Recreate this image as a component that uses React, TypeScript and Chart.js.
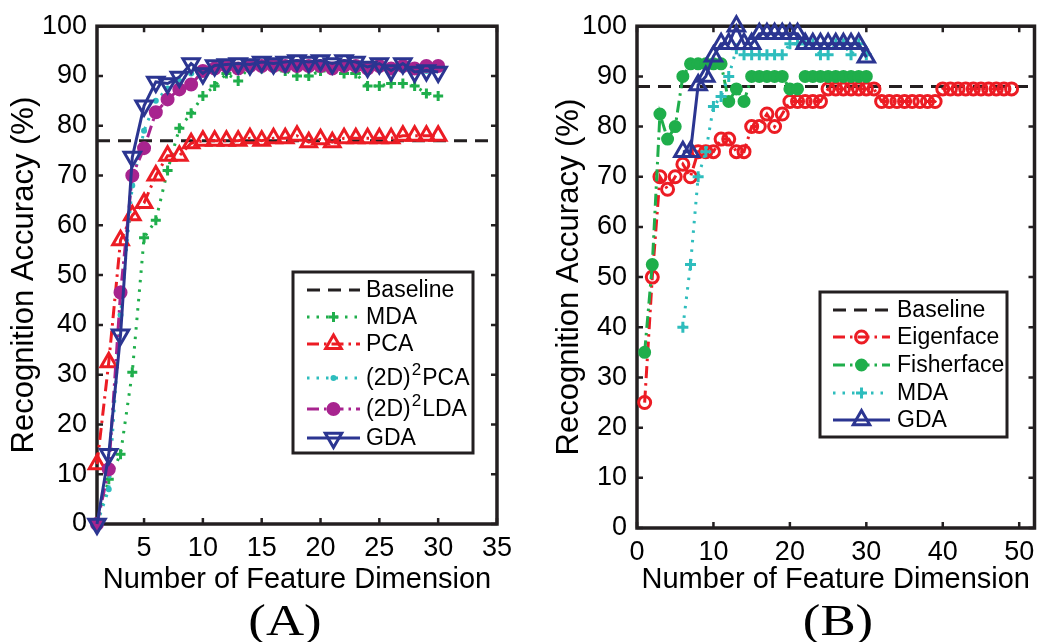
import React, { useEffect, useRef } from "react";
import { Chart, registerables } from "chart.js";

Chart.register(...registerables);

const SANS = '"Liberation Sans", Arial, Helvetica, sans-serif';

// ---------- Panel (A) ----------
const leftDims = [1, 2, 3, 4, 5, 6, 7, 8, 9, 10, 11, 12, 13, 14, 15, 16, 17, 18, 19, 20, 21, 22, 23, 24, 25, 26, 27, 28, 29, 30];
const leftMDA = [0, 9, 14, 30.5, 57.5, 61, 71, 79.5, 82.5, 86, 88, 90.5, 89, 92, 91.5, 91.5, 91, 90, 90, 91, 91.5, 90.5, 90.5, 88, 88, 88.5, 88.5, 88, 86.5, 86];
const leftPCA = [12, 32.5, 57, 62, 64.5, 70, 74, 74, 76.5, 77, 77, 77, 77, 77.5, 77, 77.5, 77.5, 78, 76.7, 77.3, 76.7, 77.5, 77.5, 77.5, 77.5, 77.5, 78, 78, 78, 78];
const left2DPCA = [0, 7, 42, 68, 79, 85, 87.5, 89, 90.5, 91, 91.5, 91.5, 92, 91.5, 92, 92, 92, 92, 92, 92, 92, 91.5, 92, 92, 91.5, 91.5, 91.5, 91.5, 91, 91.5];
const left2DLDA = [0, 11, 46.5, 70, 75.5, 82.7, 85.3, 87.3, 88.3, 91, 91.5, 92, 91.5, 92, 92, 92, 92, 92, 92, 92, 91.5, 92, 92, 91.5, 92, 91.5, 92, 91.5, 92, 92];
const leftGDA = [0, 14, 38, 73.7, 84, 88.8, 88.5, 89.8, 92.5, 90.5, 92.1, 92.3, 92.5, 92.3, 92.8, 92.5, 92.8, 93.1, 92.8, 93.1, 92.5, 93.1, 92.8, 91.8, 92.5, 91.1, 92.5, 90.8, 91.1, 90.8];
const leftBaseline = 77;
const leftXRange = [1, 35];
const leftXTicks = [5, 10, 15, 20, 25, 30, 35];

// ---------- Panel (B) ----------
const rightEigenDims = [1, 2, 3, 4, 5, 6, 7, 8, 9, 10, 11, 12, 13, 14, 15, 16, 17, 18, 19, 20, 21, 22, 23, 24, 25, 26, 27, 28, 29, 30, 31, 32, 33, 34, 35, 36, 37, 38, 39, 40, 41, 42, 43, 44, 45, 46, 47, 48, 49];
const rightEigen = [25, 50, 70, 67.5, 70, 72.5, 70, 75, 75, 75, 77.5, 77.5, 75, 75, 80, 80, 82.5, 80, 82.5, 85, 85, 85, 85, 85, 87.5, 87.5, 87.5, 87.5, 87.5, 87.5, 87.5, 85, 85, 85, 85, 85, 85, 85, 85, 87.5, 87.5, 87.5, 87.5, 87.5, 87.5, 87.5, 87.5, 87.5, 87.5];
const rightFisherDims = [1, 2, 3, 4, 5, 6, 7, 8, 9, 10, 11, 12, 13, 14, 15, 16, 17, 18, 19, 20, 21, 22, 23, 24, 25, 26, 27, 28, 29, 30];
const rightFisher = [35, 52.5, 82.5, 77.5, 80, 90, 92.5, 92.5, 92.5, 92.5, 92.5, 85, 87.5, 85, 90, 90, 90, 90, 90, 87.5, 87.5, 90, 90, 90, 90, 90, 90, 90, 90, 90];
const rightSubDims = [6, 7, 8, 9, 10, 11, 12, 13, 14, 15, 16, 17, 18, 19, 20, 21, 22, 23, 24, 25, 26, 27, 28, 29, 30];
const rightMDA = [40, 52.5, 70, 75, 84, 86, 90, 95.5, 94.3, 94.3, 94.3, 94.3, 94.3, 94.3, 96.5, 96.5, 96.5, 96.5, 94.3, 94.3, 96.5, 96.5, 94.3, 96.5, 94.3];
const rightGDA = [75, 75, 88.3, 90, 94, 96.5, 96.5, 100, 96.5, 96.5, 98.5, 98.5, 98.5, 98.5, 98.5, 98.5, 96.5, 96.5, 96.5, 96.5, 96.5, 96.5, 96.5, 96.5, 93.8];
const rightBaseline = 88;
const rightXRange = [0, 52];
const rightXTicks = [0, 10, 20, 30, 40, 50];

const yRange = [0, 100];
const yTicks = [0, 10, 20, 30, 40, 50, 60, 70, 80, 90, 100];

const BLACK = "#231f20";
const RED = "#ec1c24";
const GREEN = "#1fae4b";
const CYAN = "#2ebdbd";
const MAGENTA = "#a8248f";
const BLUE = "#2b3591";

const pts = (xs: number[], ys: number[]) => xs.map((x, i) => ({ x, y: ys[i] }));

function series(label: string, data: any[], color: string, dash: number[], marker: string, radius: number, filled: boolean, order: number, rotation = 0) {
  return {
    label,
    data,
    borderColor: color,
    backgroundColor: color,
    borderWidth: 3,
    borderDash: dash,
    pointStyle: marker,
    pointRadius: radius,
    pointRotation: rotation,
    pointBorderColor: color,
    pointBackgroundColor: filled ? color : "rgba(0,0,0,0)",
    pointBorderWidth: 3,
    tension: 0,
    clip: false as any,
    order,
  };
}

function drawMarker(ctx: CanvasRenderingContext2D, ds: any, x: number, y: number) {
  const r = ds.pointRadius;
  if (!r) return;
  ctx.save();
  ctx.setLineDash([]);
  ctx.lineWidth = ds.pointBorderWidth;
  ctx.strokeStyle = ds.pointBorderColor;
  ctx.fillStyle = ds.pointBackgroundColor;
  ctx.beginPath();
  if (ds.pointStyle === "circle") {
    ctx.arc(x, y, r, 0, Math.PI * 2);
    ctx.closePath();
    ctx.fill();
    ctx.stroke();
  } else if (ds.pointStyle === "triangle") {
    let rad = (ds.pointRotation || 0) * Math.PI / 180;
    ctx.moveTo(x + Math.sin(rad) * r, y - Math.cos(rad) * r);
    rad += (2 * Math.PI) / 3;
    ctx.lineTo(x + Math.sin(rad) * r, y - Math.cos(rad) * r);
    rad += (2 * Math.PI) / 3;
    ctx.lineTo(x + Math.sin(rad) * r, y - Math.cos(rad) * r);
    ctx.closePath();
    ctx.fill();
    ctx.stroke();
  } else if (ds.pointStyle === "cross") {
    ctx.moveTo(x - r, y);
    ctx.lineTo(x + r, y);
    ctx.moveTo(x, y - r);
    ctx.lineTo(x, y + r);
    ctx.stroke();
  }
  ctx.restore();
}

const matFrame = {
  id: "matFrame",
  beforeDatasetsDraw(chart: any) {
    const { ctx, chartArea, scales } = chart;
    const { left, right, top, bottom } = chartArea;
    ctx.save();
    ctx.strokeStyle = BLACK;
    ctx.lineWidth = 2.5;
    const tl = 6;
    ctx.beginPath();
    scales.x.ticks.forEach((t: any) => {
      const px = scales.x.getPixelForValue(t.value);
      ctx.moveTo(px, bottom);
      ctx.lineTo(px, bottom - tl);
      ctx.moveTo(px, top);
      ctx.lineTo(px, top + tl);
    });
    scales.y.ticks.forEach((t: any) => {
      const py = scales.y.getPixelForValue(t.value);
      ctx.moveTo(left, py);
      ctx.lineTo(left + tl, py);
      ctx.moveTo(right, py);
      ctx.lineTo(right - tl, py);
    });
    ctx.stroke();
    ctx.lineWidth = 3.5;
    ctx.strokeRect(left, top, right - left, bottom - top);
    ctx.restore();
  },
};

// draws a legend label; a "²" is drawn as a raised, smaller "2"
function drawLabel(ctx: CanvasRenderingContext2D, text: string, x: number, y: number, size: number) {
  const parts = text.split("²");
  let cx = x;
  parts.forEach((p, i) => {
    ctx.font = `${size}px ${SANS}`;
    ctx.fillText(p, cx, y);
    cx += ctx.measureText(p).width;
    if (i < parts.length - 1) {
      const s = Math.round(size * 0.72);
      ctx.font = `${s}px ${SANS}`;
      ctx.fillText("2", cx + 1, y - size * 0.38);
      cx += ctx.measureText("2").width + 2;
    }
  });
}

const matLegend = {
  id: "matLegend",
  afterDraw(chart: any, _args: any, opts: any) {
    const ctx: CanvasRenderingContext2D = chart.ctx;
    const [x0, y0, x1, y1] = opts.box;
    ctx.save();
    ctx.fillStyle = "#fff";
    ctx.fillRect(x0, y0, x1 - x0, y1 - y0);
    ctx.strokeStyle = BLACK;
    ctx.lineWidth = 3;
    ctx.strokeRect(x0, y0, x1 - x0, y1 - y0);
    chart.data.datasets.forEach((ds: any, i: number) => {
      const y = opts.rows[i];
      ctx.save();
      ctx.strokeStyle = ds.borderColor;
      ctx.lineWidth = ds.borderWidth;
      ctx.setLineDash(ds.borderDash || []);
      ctx.beginPath();
      ctx.moveTo(opts.lineX[0], y);
      ctx.lineTo(opts.lineX[1], y);
      ctx.stroke();
      ctx.restore();
      drawMarker(ctx, ds, (opts.lineX[0] + opts.lineX[1]) / 2, y);
      ctx.fillStyle = "#000";
      ctx.textAlign = "left";
      ctx.textBaseline = "middle";
      drawLabel(ctx, ds.label, opts.textX, y + 1, opts.fontSize);
    });
    ctx.restore();
  },
};

function axes(xRange: number[], xTicks: number[], yWidth: number, xHeight: number, yTitlePad: number) {
  const tickFont = { family: SANS, size: 27 };
  return {
    x: {
      type: "linear",
      min: xRange[0],
      max: xRange[1],
      afterBuildTicks: (s: any) => {
        s.ticks = xTicks.map((v) => ({ value: v }));
      },
      afterFit: (s: any) => {
        s.height = xHeight;
      },
      grid: { display: false, drawTicks: false },
      border: { display: false },
      ticks: { font: tickFont, color: "#000", padding: 8, maxRotation: 0, autoSkip: false },
      title: { display: true, text: "Number of Feature Dimension", font: { family: SANS, size: 29 }, color: "#000", padding: { top: 0, bottom: 3 } },
    },
    y: {
      type: "linear",
      min: yRange[0],
      max: yRange[1],
      afterBuildTicks: (s: any) => {
        s.ticks = yTicks.map((v) => ({ value: v }));
      },
      afterFit: (s: any) => {
        s.width = yWidth;
      },
      grid: { display: false, drawTicks: false },
      border: { display: false },
      ticks: { font: tickFont, color: "#000", padding: 10, autoSkip: false },
      title: { display: true, text: "Recognition Accuracy (%)", font: { family: SANS, size: 31 }, color: "#000", padding: { top: yTitlePad, bottom: 0 } },
    },
  };
}

function leftConfig(): any {
  return {
    type: "line",
    data: {
      datasets: [
        series("Baseline", pts(leftXRange, [leftBaseline, leftBaseline]), BLACK, [13, 8], "circle", 0, false, 6),
        series("MDA", pts(leftDims, leftMDA), GREEN, [2.5, 7], "cross", 5, false, 5),
        series("PCA", pts(leftDims, leftPCA), RED, [12, 5, 2.5, 5], "triangle", 9, false, 4),
        series("(2D)²PCA", pts(leftDims, left2DPCA), CYAN, [2.5, 7], "circle", 1.5, true, 3),
        series("(2D)²LDA", pts(leftDims, left2DLDA), MAGENTA, [12, 5, 2.5, 5], "circle", 5.5, true, 2),
        series("GDA", pts(leftDims, leftGDA), BLUE, [], "triangle", 9.5, false, 1, 180),
      ],
    },
    options: {
      animation: false,
      responsive: false,
      maintainAspectRatio: false,
      layout: { padding: { top: 24, right: 22, left: 0, bottom: 0 } },
      plugins: {
        legend: { display: false },
        tooltip: { enabled: false },
        matLegend: { box: [293, 272, 473, 453], rows: [290, 317, 344, 378, 409, 438], lineX: [307, 360], textX: 366, fontSize: 23 },
      },
      scales: axes(leftXRange, leftXTicks, 97, 76, 6),
    },
    plugins: [matFrame, matLegend],
  };
}

function rightConfig(): any {
  return {
    type: "line",
    data: {
      datasets: [
        series("Baseline", pts(rightXRange, [rightBaseline, rightBaseline]), BLACK, [13, 8], "circle", 0, false, 5),
        series("Eigenface", pts(rightEigenDims, rightEigen), RED, [12, 5, 2.5, 5], "circle", 6, false, 4),
        series("Fisherface", pts(rightFisherDims, rightFisher), GREEN, [12, 5, 2.5, 5], "circle", 5, true, 3),
        series("MDA", pts(rightSubDims, rightMDA), CYAN, [2.5, 7], "cross", 5.5, false, 2),
        series("GDA", pts(rightSubDims, rightGDA), BLUE, [], "triangle", 9.5, false, 1),
      ],
    },
    options: {
      animation: false,
      responsive: false,
      maintainAspectRatio: false,
      layout: { padding: { top: 18, right: 6, left: 0, bottom: 0 } },
      plugins: {
        legend: { display: false },
        tooltip: { enabled: false },
        matLegend: { box: [290, 292, 477, 437], rows: [310, 337, 365, 393, 420], lineX: [303, 360], textX: 367, fontSize: 23 },
      },
      scales: axes(rightXRange, rightXTicks, 107, 72, 21),
    },
    plugins: [matFrame, matLegend],
  };
}

function Panel({ make, left, width, height }: { make: () => any; left: number; width: number; height: number }) {
  const ref = useRef<HTMLCanvasElement | null>(null);
  useEffect(() => {
    if (!ref.current) return;
    const chart = new Chart(ref.current, make());
    return () => chart.destroy();
  }, [make]);
  return (
    <canvas
      ref={ref}
      width={width}
      height={height}
      style={{ position: "absolute", left, top: 0, width, height }}
    />
  );
}

const labelStyle: React.CSSProperties = {
  position: "absolute",
  width: 160,
  textAlign: "center",
  top: 599,
  fontFamily: '"Liberation Serif", "DejaVu Serif", serif',
  fontSize: 44,
  lineHeight: "44px",
  color: "#000",
  transform: "scaleX(1.2)",
};

export default function App() {
  return (
    <div style={{ position: "absolute", left: 0, top: 0, width: 1047, height: 642, background: "#fff", overflow: "hidden" }}>
      <Panel make={leftConfig} left={0} width={520} height={600} />
      <Panel make={rightConfig} left={530} width={517} height={600} />
      <div style={{ ...labelStyle, left: 285 - 80 }}>(A)</div>
      <div style={{ ...labelStyle, left: 838 - 80 }}>(B)</div>
    </div>
  );
}
